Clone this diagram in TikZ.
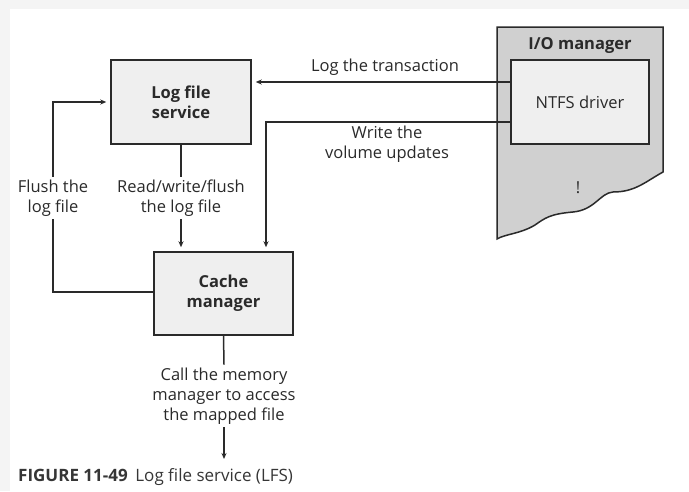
\documentclass[tikz,border=0pt]{standalone}
\usepackage{fontspec}
\setmainfont{Open Sans}
\usetikzlibrary{arrows.meta,calc}
\definecolor{ink}{HTML}{2A2A2A}
\definecolor{boxfill}{HTML}{EFEFEF}
\definecolor{iofill}{HTML}{D0D0D0}
\definecolor{margin}{HTML}{F4F4F4}
\definecolor{captxt}{HTML}{363636}
\tikzset{
  procbox/.style={draw=ink,line width=1.5pt,fill=boxfill,font=\fontsize{16.5}{20}\selectfont\bfseries,text=ink,align=center,inner sep=0pt},
  lbl/.style={font=\fontsize{16.5}{20}\selectfont,text=ink,align=center,inner sep=2pt},
  conn/.style={draw=ink,line width=1.5pt},
  arr/.style={conn,-{Stealth[length=6pt,width=5pt]},shorten >=4pt}
}
\begin{document}
\begin{tikzpicture}[x=1pt,y=-1pt]
\useasboundingbox (0,0) rectangle (689,491);
\fill[margin] (0,0) rectangle (689,491);
\fill[white] (10,9) rectangle (689,491);
% I/O manager shape
\draw[ink,line width=1.5pt,fill=iofill] (497,27) -- (663,27) -- (663,172)
  .. controls (645,182) and (635,192) .. (613,192)
  .. controls (600,193) and (595,210) .. (573,212)
  .. controls (550,214) and (545,218) .. (535,225)
  .. controls (520,234) and (505,234) .. (497,239) -- cycle;
\node[font=\fontsize{16.5}{20}\selectfont\bfseries,text=ink] (iolbl) at (580,45) {I/O manager};
\node[font=\fontsize{16.5}{20}\selectfont,text=ink] (dots) at (578,188) {!};
% boxes
\node[procbox,minimum width=140pt,minimum height=84pt] (lfs) at (181,102) {Log file\\service};
\node[procbox,minimum width=139pt,minimum height=83pt] (cache) at (223.5,293.5) {Cache\\manager};
\node[procbox,font=\fontsize{16.5}{20}\selectfont,minimum width=138pt,minimum height=84pt] (ntfs) at (580,102) {NTFS driver};
% helper coordinates
\coordinate (ylog) at (0,82);
\coordinate (wturn) at (266,122);
\coordinate (fturnlow) at (53,292);
\coordinate (fturnup) at (53,102);
\coordinate (endpt) at (224,459);
% labels
\node[lbl] (logtx) at (385,67) {Log the transaction};
\node[lbl] (write) at (387,144) {Write the\\volume updates};
\node[lbl,inner sep=3pt] (flush) at (53,198) {Flush the\\log file};
\node[lbl,inner sep=3pt] (rw) at (181,198) {Read/write/flush\\the log file};
\node[lbl,inner sep=3pt] (callmm) at (224,396) {Call the memory\\manager to access\\the mapped file};
% connectors
\draw[arr] (ntfs.west |- ylog) -- (lfs.east |- ylog);
\draw[arr] (ntfs.west |- wturn) -- (wturn) -- (wturn |- cache.north);
\draw[conn] (cache.west |- fturnlow) -- (fturnlow) -- (flush.south);
\draw[arr] (flush.north) -- (fturnup) -- (lfs.west |- fturnup);
\draw[conn] (lfs.south) -- (rw.north);
\draw[arr] (rw.south) -- (rw.south |- cache.north);
\draw[conn] (cache.south) -- (callmm.north);
\draw[arr,shorten >=0pt] (callmm.south) -- (endpt);
% caption
\node[anchor=base west,inner sep=0pt,text=captxt,font=\fontsize{17}{20}\selectfont] (cap) at (18,481) {{\bfseries FIGURE 11-49}\hspace{0.45em}Log file service (LFS)};
\end{tikzpicture}
\end{document}
